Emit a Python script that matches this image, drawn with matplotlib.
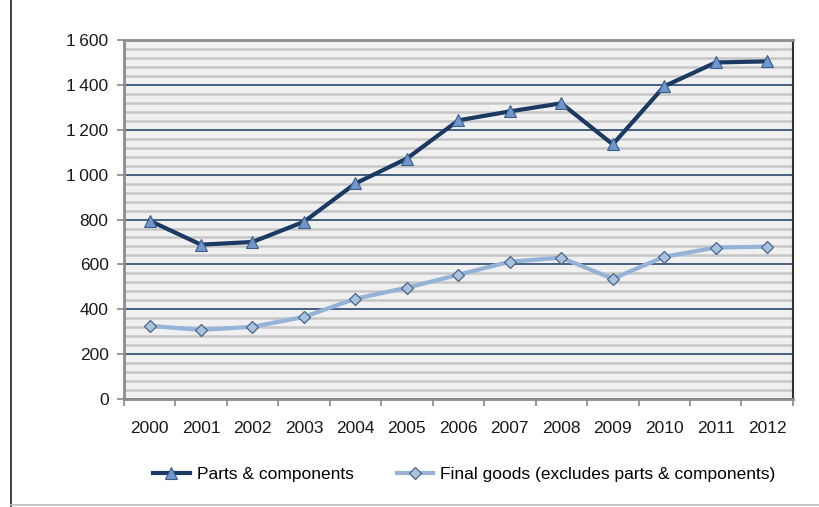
import numpy as np
import matplotlib.pyplot as plt
from matplotlib.ticker import FuncFormatter, MultipleLocator, FixedLocator
from matplotlib.lines import Line2D

plt.rcParams['font.family'] = ['Liberation Sans', 'DejaVu Sans']

years = ['2000', '2001', '2002', '2003', '2004', '2005', '2006',
         '2007', '2008', '2009', '2010', '2011', '2012']
parts = [795, 688, 700, 790, 961, 1072, 1242, 1282, 1318, 1135, 1394, 1500, 1505]
final_goods = [326, 308, 322, 366, 447, 496, 554, 612, 630, 536, 634, 675, 679]

navy = '#1B3A63'
light = '#95B3D7'

fig = plt.figure(figsize=(8.2, 5.07), dpi=100)
ax = fig.add_axes([0.151, 0.213, 0.816, 0.708])
ax.set_facecolor('#F0F0F0')

x = np.arange(len(years))

# striped background: minor grid every 40, major every 200
ax.set_ylim(0, 1600)
ax.yaxis.set_major_locator(MultipleLocator(200))
ax.yaxis.set_minor_locator(MultipleLocator(40))
ax.grid(which='minor', axis='y', color='#C6C6C6', linewidth=1.8, zorder=0)
ax.grid(which='major', axis='y', color=navy, linewidth=1.1, zorder=1)
ax.set_axisbelow(True)

ax.plot(x, parts, color=navy, linewidth=3, marker='^', markersize=8,
        markerfacecolor='#6F97CC', markeredgecolor='#3C5E8C', markeredgewidth=0.8,
        zorder=4, label='Parts & components')
ax.plot(x, final_goods, color=light, linewidth=3, marker='D', markersize=6,
        markerfacecolor='#A9C2E0', markeredgecolor='#4B6486', markeredgewidth=0.9,
        zorder=3, label='Final goods (excludes parts & components)')

ax.set_xlim(-0.5, len(years) - 0.5)
ax.xaxis.set_major_locator(FixedLocator(x))
ax.set_xticklabels(years)
ax.xaxis.set_minor_locator(FixedLocator(np.arange(-0.5, len(years), 1.0)))
ax.tick_params(axis='x', which='major', length=0, pad=16, labelsize=12.5, colors='#1a1a1a')
ax.tick_params(axis='x', which='minor', length=5, width=1.2, color='#888888')
ax.tick_params(axis='y', which='major', length=5, width=1.2, color='#888888',
               labelsize=12.5, labelcolor='#1a1a1a', pad=6)
ax.tick_params(axis='y', which='minor', length=0)

ax.yaxis.set_major_formatter(FuncFormatter(lambda v, p: f'{int(v):,}'.replace(',', '\u2009')))

for side in ['left', 'bottom', 'top']:
    ax.spines[side].set_color('#8C8C8C')
    ax.spines[side].set_linewidth(2)
ax.spines['right'].set_color('#333333')
ax.spines['right'].set_linewidth(1.5)

ax.legend(loc='upper center', bbox_to_anchor=(0.509, -0.145), ncol=2, frameon=False,
          fontsize=12.5, handlelength=2.1, handletextpad=0.4, columnspacing=2.5)

# outer frame lines
fig.add_artist(Line2D([0.0134, 0.0134], [0.0, 1.0], color='#222222', linewidth=1.2))
fig.add_artist(Line2D([0.0134, 1.0], [0.004, 0.004], color='#BBBBBB', linewidth=1.2))

fig.savefig('out.png', dpi=100)
